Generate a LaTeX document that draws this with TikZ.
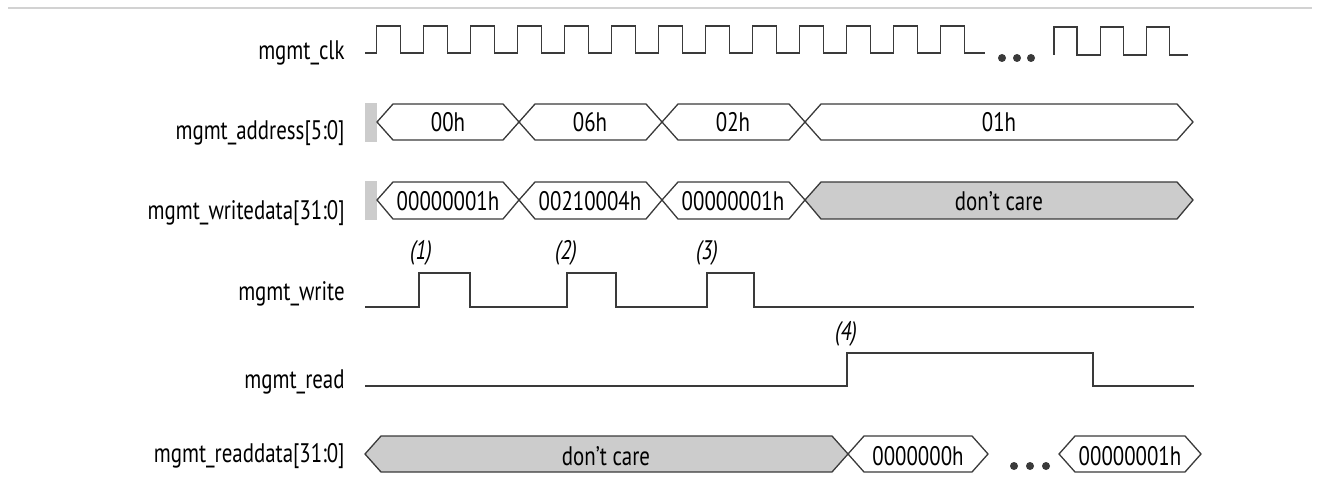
\documentclass[tikz,border=0pt]{standalone}
\usepackage{fontspec}
\setmainfont[FakeStretch=0.78]{PT Sans}
\usepackage{tikz}
\usetikzlibrary{positioning}

\definecolor{wave}{HTML}{3A3A3A}
\definecolor{dcare}{HTML}{CCCCCC}

\tikzset{
  sig/.style={draw=wave, line width=0.65pt},
  bus/.style={draw=wave, line width=0.65pt, fill=white},
  dontcare/.style={draw=wave, line width=0.65pt, fill=dcare},
  siglabel/.style={anchor=base east, inner sep=0pt, font=\fontsize{13.4}{15}\selectfont},
  buslabel/.style={anchor=base, inner sep=0pt, font=\fontsize{13.4}{15}\selectfont},
  note/.style={anchor=base, inner sep=0pt, font=\fontsize{13.4}{15}\selectfont\itshape},
}

\begin{document}
\begin{tikzpicture}[x=0.5pt, y=-0.5pt]
  \useasboundingbox (0,0) rectangle (1337,497);

  % Top rule
  \draw[gray!35, line width=0.8pt] (8,8) -- (1312,8);

  % Signal names
  \node[siglabel] (lclk)   at (345,60)  {mgmt\_clk};
  \node[siglabel] (laddr)  at (345,140) {mgmt\_address[5:0]};
  \node[siglabel] (lwdata) at (345,220) {mgmt\_writedata[31:0]};
  \node[siglabel] (lwrite) at (345,300) {mgmt\_write};
  \node[siglabel] (lread)  at (345,388) {mgmt\_read};
  \node[siglabel] (lrdata) at (345,462) {mgmt\_readdata[31:0]};

  % Clock
  \draw[sig] (365,53) \foreach \i in {0,...,12} {
      -- ({376.7+47.0*\i},53) -- ++(0,-27) -- ++(23.5,0) -- ++(0,27) } -- (985,53);
  \draw[sig] (1054,55) \foreach \i in {0,...,2} {
      -- ({1054+46.4*\i},55) -- ++(0,-28) -- ++(23,0) -- ++(0,28) } -- (1188,55);
  \foreach \x in {1002,1017,1031}
    \fill[wave] (\x,58) circle (4);

  % Address bus
  \fill[dcare] (365,103) rectangle (377,142);
  \draw[bus] (377,122) -- (393,104) -- (503,104) -- (519,122) -- (503,140) -- (393,140) -- cycle;
  \draw[bus] (519,122) -- (535,104) -- (646,104) -- (662,122) -- (646,140) -- (535,140) -- cycle;
  \draw[bus] (662,122) -- (678,104) -- (789,104) -- (805,122) -- (789,140) -- (678,140) -- cycle;
  \draw[bus] (805,122) -- (821,104) -- (1177,104) -- (1193,122) -- (1177,140) -- (821,140) -- cycle;
  \node[buslabel] (a00) at (448,132) {00h};
  \node[buslabel] (a06) at (590,132) {06h};
  \node[buslabel] (a02) at (733,132) {02h};
  \node[buslabel] (a01) at (999,132) {01h};

  % Write data bus
  \fill[dcare] (365,181) rectangle (377,220);
  \draw[bus] (377,200) -- (393,182) -- (503,182) -- (519,200) -- (503,219) -- (393,219) -- cycle;
  \draw[bus] (519,200) -- (535,182) -- (646,182) -- (662,200) -- (646,219) -- (535,219) -- cycle;
  \draw[bus] (662,200) -- (678,182) -- (789,182) -- (805,200) -- (789,219) -- (678,219) -- cycle;
  \draw[dontcare] (805,200) -- (821,182) -- (1177,182) -- (1193,200) -- (1177,219) -- (821,219) -- cycle;
  \node[buslabel] (w1) at (448,211) {00000001h};
  \node[buslabel] (w2) at (590,211) {00210004h};
  \node[buslabel] (w3) at (733,211) {00000001h};
  \node[buslabel] (w4) at (999,211) {don’t care};

  % Write strobe
  \draw[sig] (365,307) -- (419,307) -- (419,273) -- (470,273) -- (470,307)
    -- (567,307) -- (567,273) -- (616,273) -- (616,307)
    -- (707,307) -- (707,273) -- (754,273) -- (754,307) -- (1194,307);
  \node[note] (n1) at (421,259) {(1)};
  \node[note] (n2) at (566,259) {(2)};
  \node[note] (n3) at (707,259) {(3)};

  % Read strobe
  \draw[sig] (365,386) -- (847,386) -- (847,353) -- (1093,353) -- (1093,386) -- (1194,386);
  \node[note] (n4) at (846,340) {(4)};

  % Read data bus
  \draw[dontcare] (365,454) -- (381,436) -- (832,436) -- (848,454) -- (832,472) -- (381,472) -- cycle;
  \draw[bus] (848,454) -- (864,436) -- (972,436) -- (988,454) -- (972,472) -- (864,472) -- cycle;
  \draw[bus] (1059,454) -- (1075,436) -- (1185,436) -- (1201,454) -- (1185,472) -- (1075,472) -- cycle;
  \foreach \x in {1014,1030,1046}
    \fill[wave] (\x,466) circle (4);
  \node[buslabel] (r1) at (606,465) {don’t care};
  \node[buslabel] (r2) at (918,465) {0000000h};
  \node[buslabel] (r3) at (1130,465) {00000001h};
\end{tikzpicture}
\end{document}
